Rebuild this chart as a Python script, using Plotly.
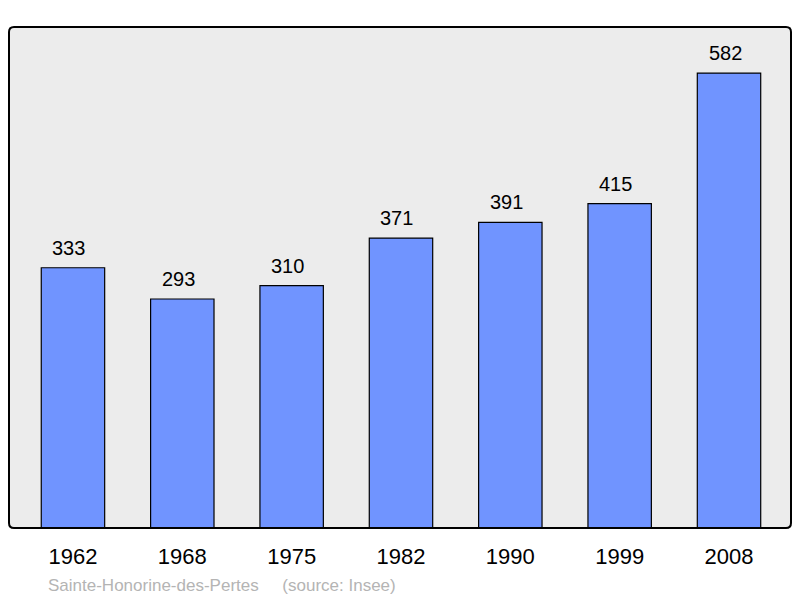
import plotly.graph_objects as go

years = ["1962", "1968", "1975", "1982", "1990", "1999", "2008"]
population = [333, 293, 310, 371, 391, 415, 582]
source_text = "Sainte-Honorine-des-Pertes    (source: Insee)"

# page is rendered with an 8px body margin, so the figure is 8px smaller
W, H = 792, 590
ml, mr, mt, mb = 1, 9, 19, 70
PW, PH = W - ml - mr, H - mt - mb

fig = go.Figure()
fig.add_trace(go.Bar(
    x=list(range(len(years))), y=population,
    width=0.58,
    marker=dict(color="#7094ff", line=dict(color="black", width=1.2)),
    hoverinfo="skip",
))

for i, v in enumerate(population):
    fig.add_annotation(x=i, y=v, text=str(v), showarrow=False,
                       yanchor="bottom", yshift=7, xshift=-4,
                       font=dict(family="Liberation Sans, Arial", size=20, color="black"))

fig.add_annotation(xref="paper", yref="paper", x=0.047, y=-0.114, xanchor="left", yanchor="middle",
                   text=source_text.replace("    ", "&nbsp;&nbsp;&nbsp;&nbsp;&nbsp;"), showarrow=False,
                   font=dict(family="Liberation Sans, Arial", size=17, color="#b4b4b4"))

r = 5
path = (f"M {r},0 L {PW-r},0 Q {PW},0 {PW},{r} L {PW},{PH-r} Q {PW},{PH} {PW-r},{PH} "
        f"L {r},{PH} Q 0,{PH} 0,{PH-r} L 0,{r} Q 0,0 {r},0 Z")
fig.add_shape(type="path", xref="paper", yref="paper", xsizemode="pixel", ysizemode="pixel",
              xanchor=0, yanchor=0, path=path,
              line=dict(color="black", width=2), layer="above")

fig.update_layout(
    width=W, height=H,
    margin=dict(l=ml, r=mr, t=mt, b=mb),
    plot_bgcolor="#ececec", paper_bgcolor="white",
    showlegend=False,
    xaxis=dict(range=[-0.585, 6.567], tickmode="array", tickvals=list(range(len(years))),
               ticktext=years, showgrid=False, zeroline=False,
               ticks="outside", ticklen=9, tickcolor="rgba(0,0,0,0)",
               tickfont=dict(family="Liberation Sans, Arial", size=22, color="black")),
    yaxis=dict(range=[0, 641], showgrid=False, zeroline=False, showticklabels=False),
)

fig.write_html("out.html")
